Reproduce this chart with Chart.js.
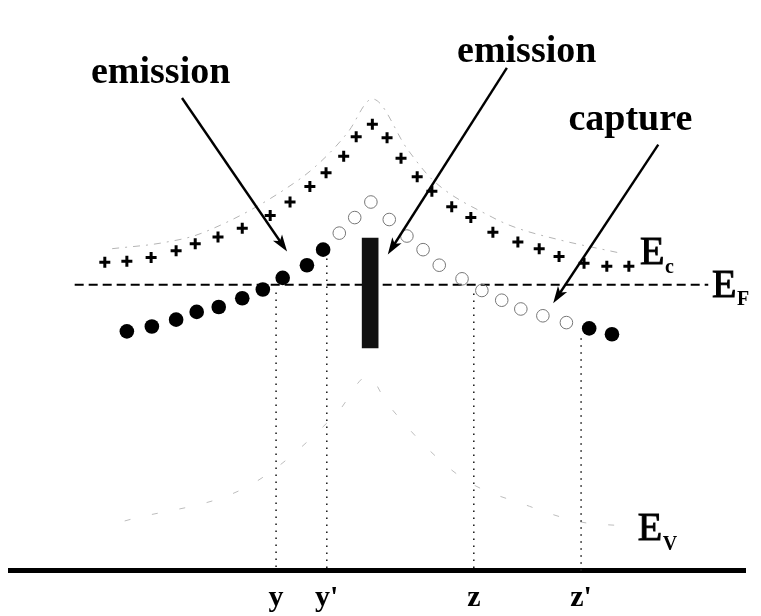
<!DOCTYPE html>
<html>
<head>
<meta charset="utf-8">
<script src="https://cdn.jsdelivr.net/npm/chart.js@4.4.1/dist/chart.umd.min.js"></script>
<style>
  html, body { margin: 0; padding: 0; background: #fff; }
  #wrap { width: 761px; height: 616px; }
</style>
</head>
<body>
<div id="wrap"><canvas id="c" width="761" height="616"></canvas></div>
<script>
// Position along the sample (arbitrary units, 0-100) and energy relative to E_F (eV).

// ionized traps (+) following the conduction-band profile
const ionizedX = [12.9, 15.9, 19.2, 22.6, 25.2, 28.3, 31.6, 35.4, 38.1, 40.8, 43.0, 45.4, 47.1, 49.3,
                  51.3, 53.2, 55.4, 57.4, 60.1, 62.7, 65.7, 69.1, 72.0, 74.7, 78.1, 81.2, 84.2];
const ionizedE = [0.23, 0.24, 0.28, 0.35, 0.42, 0.49, 0.58, 0.71, 0.85, 1.01, 1.15, 1.32, 1.52, 1.65,
                  1.51, 1.30, 1.11, 0.96, 0.80, 0.69, 0.54, 0.44, 0.37, 0.29, 0.22, 0.19, 0.19];

// occupied traps (filled circles)
const filledX = [15.9, 19.3, 22.6, 25.4, 28.4, 31.6, 34.4, 37.1, 40.4, 42.6, 78.8, 81.9];
const filledE = [-0.48, -0.43, -0.36, -0.28, -0.23, -0.14, -0.05, 0.07, 0.20, 0.36, -0.45, -0.51];

// empty traps (open circles)
const emptyX = [44.8, 46.9, 49.1, 51.6, 54.0, 56.2, 58.4, 61.5, 64.2, 66.9, 69.5, 72.5, 75.7];
const emptyE = [0.53, 0.69, 0.85, 0.67, 0.50, 0.36, 0.20, 0.06, -0.06, -0.16, -0.25, -0.32, -0.39];

// band edges (faint curves)
const ecCurveX = [13.9, 20.7, 26.1, 39.5, 43.3, 46.0, 49.3, 54.1, 57.6, 65.7, 68.7, 74.8, 82.7];
const ecCurveE = [0.37, 0.43, 0.53, 1.09, 1.34, 1.57, 1.91, 1.39, 1.07, 0.69, 0.59, 0.46, 0.33];
const evCurveX = [15.6, 32.7, 44.6, 48.7, 51.4, 61.2, 70.7, 77.6, 83.4];
const evCurveE = [-2.43, -2.06, -1.31, -0.94, -1.23, -1.97, -2.28, -2.44, -2.48];

// Fermi level
const fermiX = [8.8, 95.0];
const fermiE = [0, 0];

// defect band (vertical bar)
const defectX = [49.0];
const defectRange = [[-0.65, 0.48]];

// marked positions on the axis
const markX = [36.2, 43.1, 63.1, 77.7];
const markLabels = ['y', "y'", 'z', "z'"];
const markTopE = [-0.08, 0.27, -0.09, -0.55];
const axisE = -2.94;

// arrows: start and tip
const arrowFrom = [[23.4, 1.92], [67.6, 2.23], [88.2, 1.44]];
const arrowTo = [[37.7, 0.34], [51.4, 0.31], [73.9, -0.19]];
const arrowText = ['emission', 'emission', 'capture'];

const pts = (xs, ys) => xs.map((v, i) => ({ x: v, y: ys[i] }));

const SERIF = '"Liberation Serif", "DejaVu Serif", serif';

// caption placement (centre x, baseline energy)
const captionPos = [[20.5, 2.07], [70.3, 2.29], [84.4, 1.59]];
// band labels: main letter and subscript
const bandLabels = [
  { main: 'E', sub: 'c', at: [85.7, 0.21], subAt: [89.1, 0.12] },
  { main: 'E', sub: 'F', at: [95.5, -0.13], subAt: [98.9, -0.21] },
  { main: 'E', sub: 'V', at: [85.4, -2.63], subAt: [88.8, -2.73] }
];

const annotations = {
  id: 'annotations',
  afterDatasetsDraw(chart) {
    const { ctx } = chart;
    const sx = chart.scales.x, sy = chart.scales.y;
    const px = v => sx.getPixelForValue(v);
    const py = v => sy.getPixelForValue(v);
    ctx.save();
    ctx.fillStyle = '#000';
    ctx.strokeStyle = '#000';

    // arrows
    arrowFrom.forEach((f, i) => {
      const t = arrowTo[i];
      const x1 = px(f[0]), y1 = py(f[1]), x2 = px(t[0]), y2 = py(t[1]);
      const a = Math.atan2(y2 - y1, x2 - x1);
      const L = 17, W = 5.5;
      ctx.lineWidth = 2.4;
      ctx.beginPath();
      ctx.moveTo(x1, y1);
      ctx.lineTo(x2 - Math.cos(a) * L * 0.7, y2 - Math.sin(a) * L * 0.7);
      ctx.stroke();
      ctx.beginPath();
      ctx.moveTo(x2, y2);
      ctx.lineTo(x2 - L * Math.cos(a) + W * Math.sin(a), y2 - L * Math.sin(a) - W * Math.cos(a));
      ctx.lineTo(x2 - L * 0.75 * Math.cos(a), y2 - L * 0.75 * Math.sin(a));
      ctx.lineTo(x2 - L * Math.cos(a) - W * Math.sin(a), y2 - L * Math.sin(a) + W * Math.cos(a));
      ctx.closePath();
      ctx.fill();
    });

    // captions
    ctx.font = 'bold 38px ' + SERIF;
    ctx.textAlign = 'center';
    ctx.textBaseline = 'alphabetic';
    arrowText.forEach((s, i) => {
      ctx.fillText(s, px(captionPos[i][0]), py(captionPos[i][1]));
    });

    // band labels
    ctx.textAlign = 'left';
    bandLabels.forEach(b => {
      ctx.font = '40px ' + SERIF;
      ctx.lineWidth = 1;
      ctx.fillText(b.main, px(b.at[0]), py(b.at[1]));
      ctx.strokeText(b.main, px(b.at[0]), py(b.at[1]));
      ctx.font = 'bold 20px ' + SERIF;
      ctx.fillText(b.sub, px(b.subAt[0]), py(b.subAt[1]));
    });
    ctx.restore();
  }
};

const datasets = [
  {
    type: 'bar',
    data: defectX.map((v, i) => ({ x: v, y: defectRange[i] })),
    backgroundColor: '#111',
    borderWidth: 0,
    barThickness: 16
  },
  {
    type: 'scatter',
    data: pts(filledX, filledE),
    pointStyle: 'circle',
    pointRadius: 7.3,
    backgroundColor: '#000',
    borderColor: '#000',
    borderWidth: 0
  },
  {
    type: 'scatter',
    data: pts(ionizedX, ionizedE),
    pointStyle: 'cross',
    pointRadius: 5.5,
    borderColor: '#000',
    borderWidth: 3
  },
  {
    type: 'scatter',
    data: pts(emptyX, emptyE),
    pointStyle: 'circle',
    pointRadius: 6.3,
    backgroundColor: 'rgba(0,0,0,0)',
    borderColor: '#777',
    borderWidth: 1
  },
  {
    type: 'line',
    data: pts(fermiX, fermiE),
    borderColor: '#000',
    borderWidth: 2,
    borderDash: [9, 5],
    pointRadius: 0,
    fill: false
  },
  ...markX.map((mx, i) => ({
    type: 'line',
    data: [{ x: mx, y: markTopE[i] }, { x: mx, y: axisE - 0.02 }],
    borderColor: '#222',
    borderWidth: 1.6,
    borderDash: [1.6, 5.4],
    pointRadius: 0,
    fill: false
  })),
  {
    type: 'line',
    data: pts(ecCurveX, ecCurveE),
    borderColor: '#b4b4b4',
    borderWidth: 1,
    borderDash: [7, 6, 2, 6],
    cubicInterpolationMode: 'monotone',
    pointRadius: 0,
    fill: false
  },
  {
    type: 'line',
    data: pts(evCurveX, evCurveE),
    borderColor: '#bdbdbd',
    borderWidth: 1,
    borderDash: [6, 22],
    cubicInterpolationMode: 'monotone',
    pointRadius: 0,
    fill: false
  }
];

new Chart(document.getElementById('c'), {
  type: 'scatter',
  data: { datasets },
  options: {
    responsive: false,
    animation: false,
    layout: { padding: { left: 10, right: 16, top: 0, bottom: 0 } },
    plugins: { legend: { display: false }, tooltip: { enabled: false } },
    scales: {
      x: {
        type: 'linear',
        min: 0,
        max: 100,
        offset: false,
        position: { y: axisE },
        grid: { display: false },
        border: { display: true, width: 5, color: '#000' },
        afterBuildTicks: axis => { axis.ticks = markX.map(v => ({ value: v })); },
        ticks: {
          autoSkip: false,
          maxRotation: 0,
          padding: 2,
          color: '#000',
          font: { family: SERIF, size: 30, weight: 'bold' },
          callback: (v, i) => markLabels[i]
        }
      },
      y: {
        type: 'linear',
        display: false,
        min: -3.32,
        max: 2.84
      }
    }
  },
  plugins: [annotations]
});
</script>
</body>
</html>
